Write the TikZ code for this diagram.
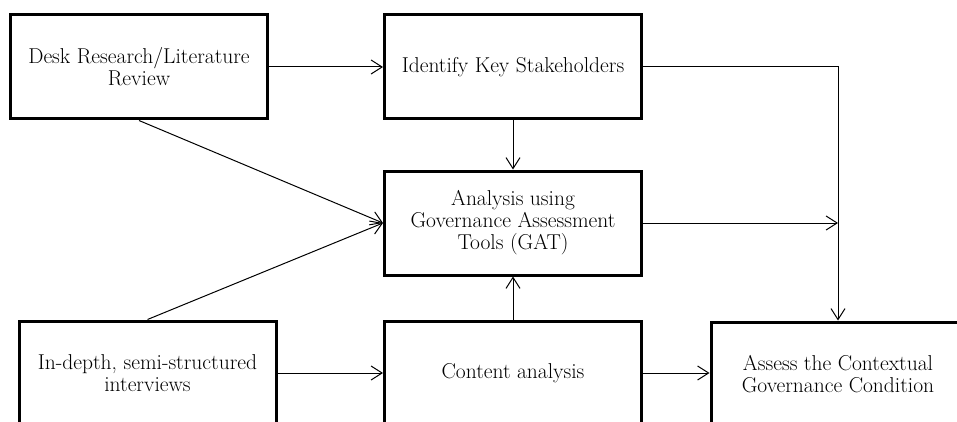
\documentclass[tikz,border=0pt]{standalone}
\usetikzlibrary{arrows.meta,positioning}

\begin{document}
\begin{tikzpicture}[
    x=1pt, y=-1pt,
    box/.style={rectangle, draw, line width=3pt, minimum width=257pt, minimum height=104pt, text centered, align=center, font=\fontsize{21.5}{22}\selectfont},
    arrow/.style={line width=1pt, -{Straight Barb[length=11pt,width=14pt]}}
]

\useasboundingbox (0,0) rectangle (957,422);
\clip (0,0) rectangle (957,422);

\node (desk) [box] at (139,67) {Desk Research/Literature\\Review};
\node (ident) [box] at (513,67) {Identify Key Stakeholders};
\node (gat) [box] at (513,223) {Analysis using\\Governance Assessment\\Tools (GAT)};
\node (interv) [box] at (147.5,373) {In-depth, semi-structured\\interviews};
\node (content) [box] at (513,373) {Content analysis};
\node (assess) [box, minimum width=254pt] at (838,374) {Assess the Contextual\\Governance Condition};

% Arrows
\draw[arrow] (desk) -- (ident);
\draw[arrow] (ident) -- (gat);
\draw[arrow] (desk.south) -- (gat.west);
\draw[arrow] (interv.north) -- (gat.west);
\draw[arrow] (content) -- (gat);
\draw[arrow] (interv) -- (content);
\draw[arrow] (content.east) -- (content.east -| assess.west);
\draw[arrow] (ident.east) -| (assess.north);
\draw[arrow] (gat.east) -- (gat.east -| assess.north);

\end{tikzpicture}
\end{document}
